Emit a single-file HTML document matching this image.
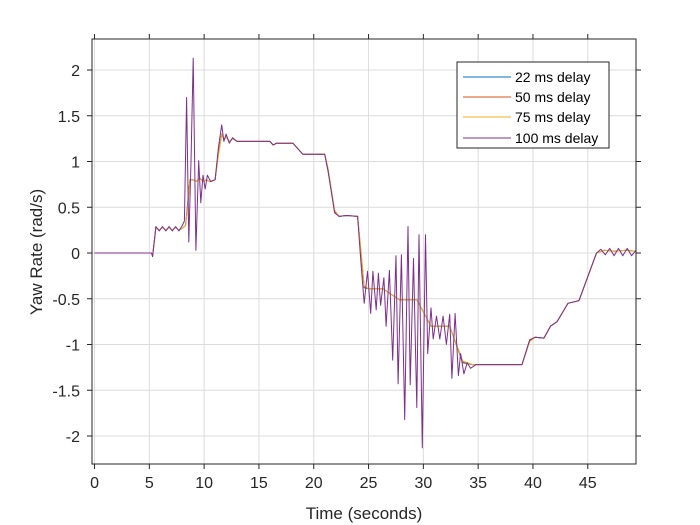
<!DOCTYPE html>
<html><head><meta charset="utf-8"><style>
body{margin:0;background:#fff;}
svg{display:block;font-family:"Liberation Sans",Arial,sans-serif;}
</style></head><body>
<svg id="chart" width="700" height="525" viewBox="0 0 700 525">
<rect x="0" y="0" width="700" height="525" fill="#fff"/>
<g id="grid"></g>
<g id="series"></g>
<rect x="92" y="39" width="544" height="425" fill="none" stroke="#262626" stroke-width="1"/>
<g id="ticks"></g>
<text x="364" y="519" text-anchor="middle" font-size="17" fill="#262626">Time (seconds)</text>
<text transform="translate(42,252) rotate(-90)" text-anchor="middle" font-size="17" fill="#262626">Yaw Rate (rad/s)</text>
<g>
<rect x="457" y="62" width="152" height="86" fill="#fff" stroke="#262626" stroke-width="1"/>
<g><line x1="463" y1="77" x2="511" y2="77" stroke="#0072BD" stroke-width="1"/><text x="515" y="82" font-size="14" fill="#000">22 ms delay</text></g>
<g><line x1="463" y1="97" x2="511" y2="97" stroke="#D95319" stroke-width="1"/><text x="515" y="102" font-size="14" fill="#000">50 ms delay</text></g>
<g><line x1="463" y1="117" x2="511" y2="117" stroke="#EDB120" stroke-width="1"/><text x="515" y="122" font-size="14" fill="#000">75 ms delay</text></g>
<g><line x1="463" y1="138" x2="511" y2="138" stroke="#7E2F8E" stroke-width="1"/><text x="515" y="143" font-size="14" fill="#000">100 ms delay</text></g>
</g>
</svg>
<script>
const xTicks = [0,5,10,15,20,25,30,35,40,45];
const yTicks = [-2,-1.5,-1,-0.5,0,0.5,1,1.5,2];
const yTickLabels = ["-2","-1.5","-1","-0.5","0","0.5","1","1.5","2"];
const baseT = [0,5.2,5.3,5.6,5.9,6.2,6.5,6.8,7.1,7.4,7.7,8.0,8.3,8.5,8.7,9.0,9.3,9.6,9.9,10.2,10.5,11.0,11.3,11.6,11.8,12.0,12.3,12.6,13.0,14,15,16,16.3,16.6,17,18.1,19.0,21.0,21.3,21.9,22.3,23,24.0,24.3,24.6,25,26.3,27.8,29.4,30.7,32.4,33.6,34.5,36,38,39.0,39.7,40.2,41,41.6,42.2,43.2,44.2,45.8,46.5,47.5,48.5,49.4];
const v22  = [0,0,-0.03,0.28,0.25,0.28,0.25,0.28,0.25,0.28,0.25,0.27,0.3,0.55,0.8,0.8,0.78,0.82,0.78,0.8,0.78,0.8,1.1,1.3,1.24,1.27,1.22,1.25,1.22,1.22,1.22,1.22,1.18,1.2,1.2,1.2,1.08,1.08,0.9,0.45,0.4,0.41,0.4,0.0,-0.38,-0.39,-0.39,-0.51,-0.51,-0.8,-0.8,-1.2,-1.22,-1.22,-1.22,-1.22,-0.95,-0.92,-0.93,-0.8,-0.75,-0.55,-0.52,0.0,0.03,0.02,0.03,0.02];
const v50  = [0,0,-0.03,0.28,0.25,0.28,0.25,0.28,0.25,0.28,0.25,0.27,0.3,0.52,0.8,0.8,0.78,0.82,0.78,0.8,0.78,0.8,1.08,1.3,1.24,1.27,1.22,1.25,1.22,1.22,1.22,1.22,1.18,1.2,1.2,1.2,1.08,1.08,0.92,0.46,0.4,0.41,0.4,0.02,-0.37,-0.39,-0.39,-0.51,-0.51,-0.8,-0.8,-1.19,-1.22,-1.22,-1.22,-1.22,-0.96,-0.92,-0.93,-0.8,-0.75,-0.55,-0.52,0.0,0.03,0.02,0.03,0.02];
const v75  = [0,0,-0.03,0.28,0.25,0.28,0.25,0.28,0.25,0.28,0.25,0.27,0.3,0.5,0.8,0.8,0.78,0.82,0.78,0.8,0.78,0.8,1.06,1.3,1.24,1.27,1.22,1.25,1.22,1.22,1.22,1.22,1.18,1.2,1.2,1.2,1.08,1.08,0.93,0.47,0.4,0.41,0.4,0.04,-0.36,-0.39,-0.39,-0.51,-0.51,-0.8,-0.8,-1.18,-1.22,-1.22,-1.22,-1.22,-0.97,-0.92,-0.93,-0.8,-0.75,-0.55,-0.52,0.0,0.03,0.02,0.03,0.02];
const t100 = [0,5.2,5.3,5.6,5.9,6.2,6.5,6.8,7.1,7.4,7.7,8.0,8.2,8.4,8.6,8.8,9.0,9.25,9.5,9.7,9.9,10.1,10.3,10.6,11.0,11.3,11.6,11.8,12.0,12.3,12.6,13.0,14,15,16,16.3,16.6,17,18.1,19.0,21.0,21.3,21.9,22.3,23,24.0,24.3,24.6,24.9,25.2,25.4,25.7,25.9,26.1,26.4,26.6,26.9,27.2,27.5,27.7,28.0,28.3,28.6,28.8,29.1,29.4,29.6,29.9,30.2,30.4,30.7,30.9,31.2,31.5,31.8,32.1,32.4,32.6,32.9,33.2,33.4,33.7,34.0,34.3,34.8,36,38,39.0,39.7,40.2,41,41.6,42.2,43.2,44.2,45.8,46.2,46.6,47.0,47.4,47.8,48.2,48.6,49.0,49.4];
const v100 = [0,0,-0.04,0.29,0.24,0.29,0.24,0.29,0.24,0.29,0.24,0.3,0.35,1.7,0.12,1.0,2.13,0.03,1.01,0.55,0.85,0.7,0.85,0.78,0.8,1.15,1.4,1.22,1.3,1.2,1.26,1.22,1.22,1.22,1.22,1.18,1.2,1.2,1.2,1.08,1.08,0.9,0.44,0.4,0.41,0.4,-0.1,-0.55,-0.2,-0.66,-0.2,-0.62,-0.22,-0.57,-0.27,-0.8,-0.19,-1.17,-0.03,-1.43,-0.02,-1.82,0.29,-1.44,-0.06,-1.69,0.2,-2.13,0.2,-1.1,-0.6,-0.94,-0.69,-0.94,-0.69,-1.0,-0.67,-1.37,-0.66,-1.34,-1.1,-1.32,-1.2,-1.26,-1.22,-1.22,-1.22,-1.22,-0.95,-0.92,-0.93,-0.8,-0.75,-0.55,-0.52,0.0,0.04,-0.02,0.05,-0.03,0.05,-0.03,0.05,-0.03,0.03];
const X0=92, X1=636, XMIN=-0.23, XMAX=49.4;
const Y0=39, Y1=464;
function xs(t){return X0+(t-XMIN)/(XMAX-XMIN)*(X1-X0);}
function ys(v){return 253-v*91.5;}
const NS="http://www.w3.org/2000/svg";
const grid=document.getElementById('grid'), ticks=document.getElementById('ticks'), series=document.getElementById('series');
function mk(tag,attrs,parent){const e=document.createElementNS(NS,tag);for(const k in attrs)e.setAttribute(k,attrs[k]);parent.appendChild(e);return e;}
xTicks.forEach(t=>{
  const x=xs(t);
  const g=mk('line',{x1:x,y1:Y0,x2:x,y2:Y1,stroke:'#dcdcdc','stroke-width':1},grid);
  
  
  const tk=mk('line',{x1:x,y1:Y1,x2:x,y2:Y1+5,stroke:'#262626','stroke-width':1},ticks);
  
  
  const tt=mk('line',{x1:x,y1:Y0,x2:x,y2:Y0-5,stroke:'#262626','stroke-width':1},ticks);
  
  
  const lb=mk('text',{x:x,y:Y1+24,'text-anchor':'middle','font-size':16,fill:'#262626'},ticks);
  lb.textContent=String(t);
  
  
});
yTicks.forEach((v,i)=>{
  const y=ys(v);
  const g=mk('line',{x1:X0,y1:y,x2:X1,y2:y,stroke:'#dcdcdc','stroke-width':1},grid);
  
  
  const tk=mk('line',{x1:X0-5,y1:y,x2:X0,y2:y,stroke:'#262626','stroke-width':1},ticks);
  
  
  const tr=mk('line',{x1:X1,y1:y,x2:X1+5,y2:y,stroke:'#262626','stroke-width':1},ticks);
  
  
  const lb=mk('text',{x:X0-12,y:y+6,'text-anchor':'end','font-size':16,fill:'#262626'},ticks);
  lb.textContent=yTickLabels[i];
  
  
});
function draw(t,v,color,name){
  const d=t.map((tt,i)=>(i?'L':'M')+xs(tt).toFixed(1)+','+ys(v[i]).toFixed(1)).join(' ');
  const p=mk('path',{d:d,fill:'none',stroke:color,'stroke-width':1,'stroke-linejoin':'round'},series);
  
  
}
draw(baseT,v22,'#0072BD','series-22ms-delay');
draw(baseT,v50,'#D95319','series-50ms-delay');
draw(baseT,v75,'#EDB120','series-75ms-delay');
draw(t100,v100,'#7E2F8E','series-100ms-delay');
</script>
</body></html>
